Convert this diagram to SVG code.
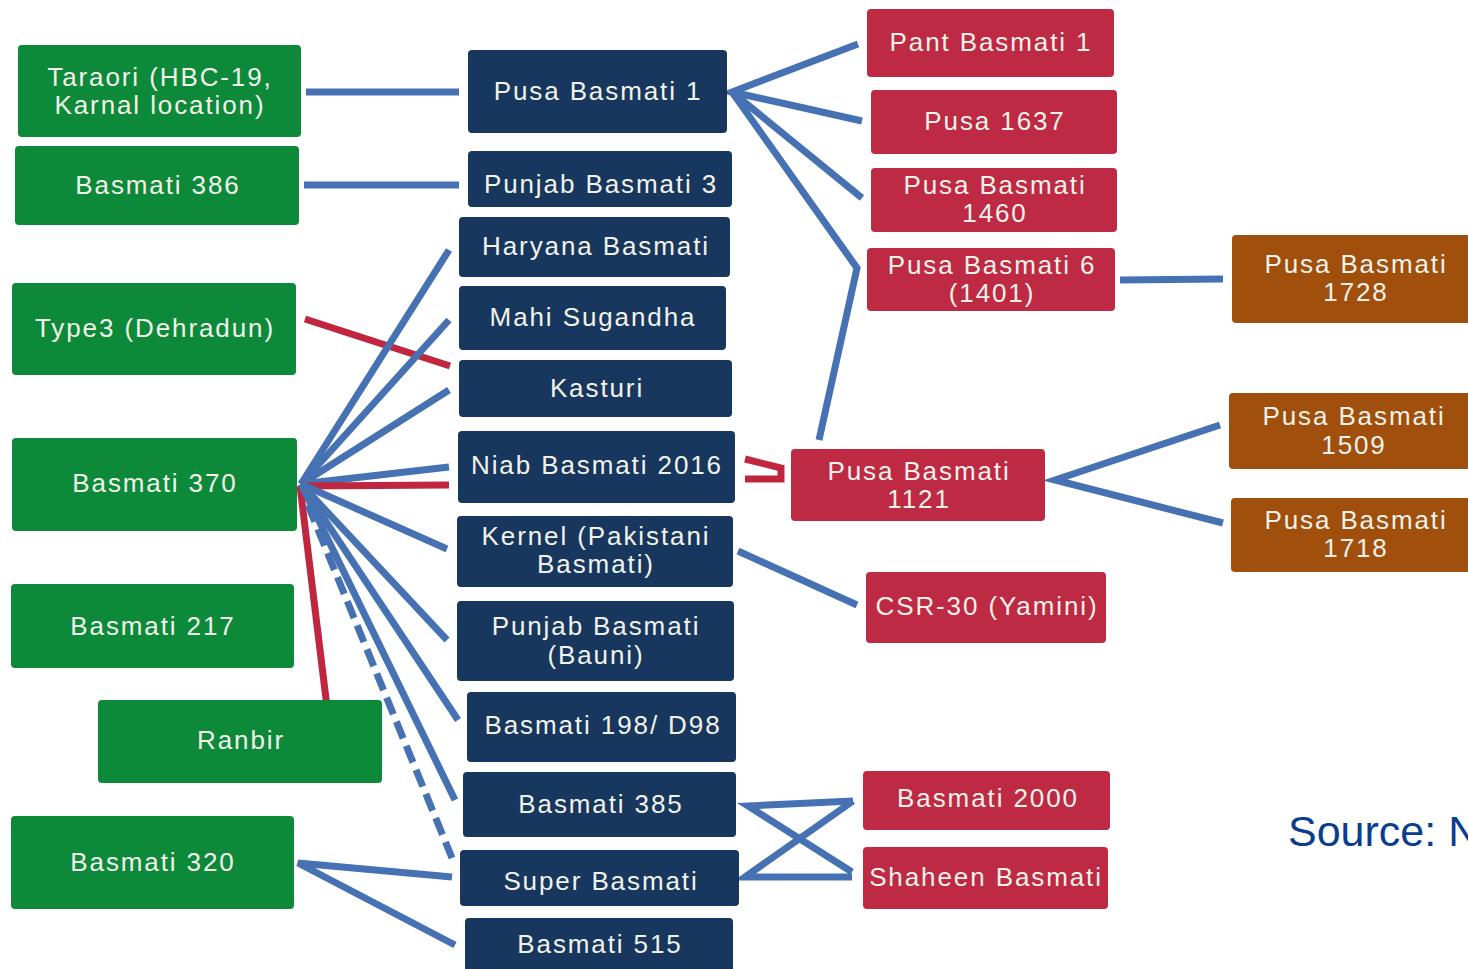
<svg xmlns="http://www.w3.org/2000/svg" width="1468" height="969" viewBox="0 0 1468 969">
<style>
.g{fill:#0c8a3a}.n{fill:#17375e}.r{fill:#be2944}.b{fill:#a04f0c}
text{font-family:"Liberation Sans",Arial,sans-serif;font-size:26px;fill:#f2f2ea;text-anchor:middle;letter-spacing:1.9px}
.bl{stroke:#4672b4;stroke-width:7;fill:none;stroke-linejoin:miter}
.rd{stroke:#c0263f;stroke-width:7;fill:none}
.src{font-size:43px;fill:#0b3d8e;text-anchor:start;letter-spacing:0}
</style>
<rect width="1468" height="969" fill="#ffffff"/>
<g id="connectors">
<line class="bl" x1="306" y1="92" x2="459" y2="92"/>
<line class="bl" x1="304" y1="185" x2="459" y2="185"/>
<polyline class="bl" points="858,44 732,92 862,121"/>
<line class="bl" x1="732" y1="92" x2="862" y2="198"/>
<polyline class="bl" points="732,92 857,268 819,440"/>
<line class="rd" x1="305" y1="319" x2="450" y2="366"/>
<line class="bl" x1="301" y1="484" x2="449" y2="250"/>
<line class="bl" x1="301" y1="484" x2="449" y2="320"/>
<line class="bl" x1="301" y1="484" x2="449" y2="390"/>
<line class="bl" x1="301" y1="484" x2="449" y2="467"/>
<line class="rd" x1="301" y1="486" x2="449" y2="485"/>
<line class="rd" x1="300" y1="486" x2="327" y2="707"/>
<line class="bl" x1="301" y1="484" x2="447" y2="549"/>
<line class="bl" x1="301" y1="484" x2="447" y2="640"/>
<line class="bl" x1="301" y1="484" x2="458" y2="720"/>
<line class="bl" x1="301" y1="484" x2="455" y2="800"/>
<line class="bl" x1="308" y1="505" x2="452" y2="858" stroke-dasharray="18,8"/>
<polyline class="bl" points="452,877 298,863 455,945"/>
<polyline class="rd" points="745,459 781,468 781,479 745,479"/>
<line class="bl" x1="738" y1="551" x2="857" y2="605"/>
<polyline class="bl" points="853,801 748,806 852,872"/>
<polyline class="bl" points="853,801 745,877 852,877"/>
<line class="bl" x1="1120" y1="280" x2="1223" y2="279"/>
<polyline class="bl" points="1220,425 1055,480 1223,523"/>
</g>
<g id="n-taraori"><rect class="g" x="18" y="45" width="283" height="92" rx="4"/><text x="160" y="86">Taraori (HBC-19,</text><text x="160" y="114">Karnal location)</text></g>
<g id="n-b386"><rect class="g" x="15" y="146" width="284" height="79" rx="4"/><text x="158" y="194">Basmati 386</text></g>
<g id="n-type3"><rect class="g" x="12" y="283" width="284" height="92" rx="4"/><text x="155" y="337">Type3 (Dehradun)</text></g>
<g id="n-b370"><rect class="g" x="12" y="438" width="285" height="93" rx="4"/><text x="155" y="492">Basmati 370</text></g>
<g id="n-b217"><rect class="g" x="11" y="584" width="283" height="84" rx="4"/><text x="153" y="635">Basmati 217</text></g>
<g id="n-ranbir"><rect class="g" x="98" y="700" width="284" height="83" rx="4"/><text x="241" y="749">Ranbir</text></g>
<g id="n-b320"><rect class="g" x="11" y="816" width="283" height="93" rx="4"/><text x="153" y="871">Basmati 320</text></g>
<g id="n-pb1"><rect class="n" x="468" y="50" width="259" height="83" rx="4"/><text x="598" y="100">Pusa Basmati 1</text></g>
<g id="n-punjab3"><rect class="n" x="468" y="151" width="264" height="56" rx="4"/><text x="601" y="193">Punjab Basmati 3</text></g>
<g id="n-haryana"><rect class="n" x="459" y="217" width="271" height="60" rx="4"/><text x="596" y="255">Haryana Basmati</text></g>
<g id="n-mahi"><rect class="n" x="459" y="286" width="267" height="64" rx="4"/><text x="593" y="326">Mahi Sugandha</text></g>
<g id="n-kasturi"><rect class="n" x="459" y="360" width="273" height="57" rx="4"/><text x="597" y="397">Kasturi</text></g>
<g id="n-niab"><rect class="n" x="458" y="431" width="277" height="72" rx="4"/><text x="597" y="474">Niab Basmati 2016</text></g>
<g id="n-kernel"><rect class="n" x="457" y="516" width="276" height="71" rx="4"/><text x="596" y="545">Kernel (Pakistani</text><text x="596" y="573">Basmati)</text></g>
<g id="n-bauni"><rect class="n" x="457" y="601" width="277" height="80" rx="4"/><text x="596" y="635">Punjab Basmati</text><text x="596" y="664">(Bauni)</text></g>
<g id="n-b198"><rect class="n" x="467" y="692" width="269" height="70" rx="4"/><text x="603" y="734">Basmati 198/ D98</text></g>
<g id="n-b385"><rect class="n" x="463" y="772" width="273" height="65" rx="4"/><text x="601" y="813">Basmati 385</text></g>
<g id="n-super"><rect class="n" x="460" y="850" width="279" height="56" rx="4"/><text x="601" y="890">Super Basmati</text></g>
<g id="n-b515"><rect class="n" x="465" y="918" width="268" height="56" rx="4"/><text x="600" y="953">Basmati 515</text></g>
<g id="n-pant"><rect class="r" x="867" y="9" width="247" height="68" rx="4"/><text x="991" y="51">Pant Basmati 1</text></g>
<g id="n-p1637"><rect class="r" x="871" y="90" width="246" height="64" rx="4"/><text x="995" y="130">Pusa 1637</text></g>
<g id="n-p1460"><rect class="r" x="871" y="168" width="246" height="64" rx="4"/><text x="995" y="194">Pusa Basmati</text><text x="995" y="222">1460</text></g>
<g id="n-p1401"><rect class="r" x="867" y="248" width="248" height="63" rx="4"/><text x="992" y="274">Pusa Basmati 6</text><text x="992" y="302">(1401)</text></g>
<g id="n-p1121"><rect class="r" x="791" y="449" width="254" height="72" rx="4"/><text x="919" y="480">Pusa Basmati</text><text x="919" y="508">1121</text></g>
<g id="n-csr30"><rect class="r" x="866" y="572" width="240" height="71" rx="4"/><text x="987" y="615">CSR-30 (Yamini)</text></g>
<g id="n-b2000"><rect class="r" x="863" y="771" width="247" height="59" rx="4"/><text x="988" y="807">Basmati 2000</text></g>
<g id="n-shaheen"><rect class="r" x="863" y="847" width="245" height="62" rx="4"/><text x="986" y="886">Shaheen Basmati</text></g>
<g id="n-p1728"><rect class="b" x="1232" y="235" width="246" height="88" rx="4"/><text x="1356" y="273">Pusa Basmati</text><text x="1356" y="301">1728</text></g>
<g id="n-p1509"><rect class="b" x="1229" y="393" width="249" height="76" rx="4"/><text x="1354" y="425">Pusa Basmati</text><text x="1354" y="454">1509</text></g>
<g id="n-p1718"><rect class="b" x="1231" y="498" width="247" height="74" rx="4"/><text x="1356" y="529">Pusa Basmati</text><text x="1356" y="557">1718</text></g>
<text class="src" x="1288" y="846">Source: N</text>
</svg>
